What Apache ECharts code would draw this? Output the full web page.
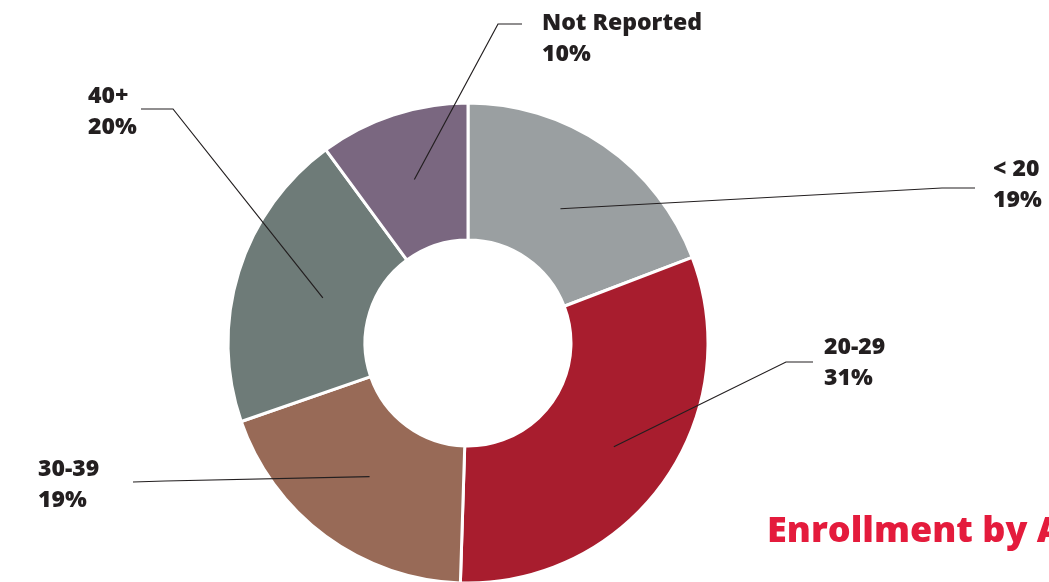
<!DOCTYPE html>
<html>
<head>
<meta charset="utf-8">
<script src="https://cdn.jsdelivr.net/npm/echarts@6/dist/echarts.min.js"></script>
<style>
html,body{margin:0;padding:0;background:#fff;}
#main{width:1049px;height:582px;}
</style>
</head>
<body>
<div id="main"></div>
<script>
// ---- data ----
const categories = ['< 20', '20-29', '30-39', '40+', 'Not Reported'];
const values = [19, 31, 19, 20, 10];
const titleText = 'Enrollment by Age';

// ---- styling / annotation layout ----
const colors = ['#9a9fa1', '#a81d2e', '#986a57', '#6e7b78', '#7a6780'];
const labelPos = [[993, 185], [824, 363], [38, 485], [88, 112], [542, 39]];
const lineStartR = [163, 179, 166, 152, 172];
const elbows = [
  [[942, 188], [975, 188]],
  [[786, 362], [813, 362]],
  [[165, 481], [133, 482]],
  [[173, 109], [141, 109]],
  [[498, 24], [522, 24]]
];

const chart = echarts.init(document.getElementById('main'), null, {renderer: 'canvas'});
chart.setOption({
  animation: false,
  backgroundColor: '#ffffff',
  series: [{
    type: 'pie',
    center: [468, 343],
    radius: [103, 240],
    startAngle: 90,
    clockwise: true,
    label: {show: false},
    labelLine: {show: false},
    emphasis: {disabled: true},
    itemStyle: {borderColor: '#ffffff', borderWidth: 3},
    data: categories.map((c, i) => ({name: c, value: values[i], itemStyle: {color: colors[i]}}))
  }]
});

const data = chart.getModel().getSeriesByIndex(0).getData();
const graphics = [];
for (let i = 0; i < categories.length; i++) {
  const L = data.getItemLayout(i);
  const mid = (L.startAngle + L.endAngle) / 2;
  const r = lineStartR[i];
  const p0 = [L.cx + r * Math.cos(mid), L.cy + r * Math.sin(mid)];
  graphics.push({
    type: 'polyline',
    silent: true,
    z: 100,
    shape: {points: [p0, elbows[i][0], elbows[i][1]]},
    style: {stroke: '#231f20', lineWidth: 1.2, fill: null}
  });
  graphics.push({
    type: 'text',
    silent: true,
    z: 100,
    x: labelPos[i][0],
    y: labelPos[i][1],
    style: {
      text: categories[i] + '\n' + values[i] + '%',
      font: '800 23px "Open Sans", sans-serif',
      fill: '#231f20',
      lineHeight: 31,
      align: 'left',
      verticalAlign: 'middle'
    }
  });
}
graphics.push({
  type: 'text',
  silent: true,
  z: 100,
  x: 767,
  y: 532,
  style: {
    text: titleText,
    font: '800 36px "Open Sans", sans-serif',
    fill: '#e41b3c',
    align: 'left',
    verticalAlign: 'middle'
  }
});
chart.setOption({graphic: graphics});
</script>
</body>
</html>
